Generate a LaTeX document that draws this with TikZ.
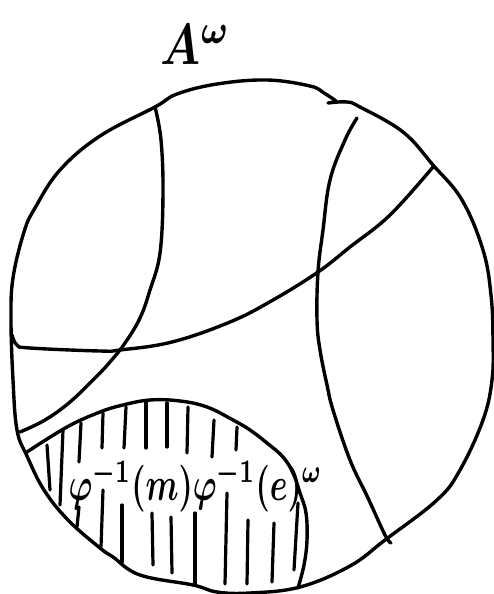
\documentclass[tikz,border=0pt]{standalone}
\begin{document}
\begin{tikzpicture}[x=1pt,y=-1pt,
  pen/.style={line width=3.4pt, line cap=round, line join=round},
  hatch/.style={line width=3.2pt, line cap=round},
  lbl/.style={inner sep=0pt, xscale=4.6, yscale=5.8, font=\boldmath},
  blobtxt/.style={inner sep=0pt, xscale=3.2, yscale=4.7, font=\boldmath}]
\useasboundingbox (0,0) rectangle (494,594);
% outer closed curve
\draw[pen] plot[smooth, tension=0.65] coordinates {
 (328,103) (347,102) (360,107) (403,132) (433,165) (462,200) (483,250)
 (491,295) (493,340) (492,380) (483,420) (460,470) (437,500) (385,540)
 (350,566) (300,587) (250,593) (217,592) (193,585) (140,575) (113,557)
 (100,548) (68,520) (44,490) (27,456) (17,430) (13,380) (11,320) (13,278)
 (24,232) (35,208) (60,170) (100,136) (155,107) (177,94) (217,84)
 (267,80) (310,86) (324,93) (336,101)};
% interior curves
\draw[pen] plot[smooth, tension=0.65] coordinates {
 (155,107) (161,140) (163,193) (160,253) (150,290) (140,318) (125,343)
 (110,362) (95,378) (70,402) (45,420) (20,432)};
\draw[pen] plot[smooth, tension=0.65] coordinates {
 (12,335) (17,345) (30,348) (100,351) (120,350) (172,342) (230,322)
 (273,300) (318,272) (350,247) (390,215) (433,167)};
\draw[pen] plot[smooth, tension=0.65] coordinates {
 (357,118) (345,140) (330,180) (323,230) (318,272) (317,320) (320,350)
 (327,385) (333,410) (350,460) (368,498) (385,535) (391,543)};
% blob boundary
\draw[pen] plot[smooth, tension=0.65] coordinates {
 (27,452) (67,427) (100,412) (123,405) (150,400) (180,401) (207,407)
 (233,420) (250,430) (267,443) (283,457) (293,473) (300,493) (306,513)
 (307,540) (304,565) (298,588)};
% hatching
\draw[hatch] (47,445) -- (50,490);
\draw[hatch] (63,430) -- (60,505);
\draw[hatch] (81,423) -- (79,462);
\draw[hatch] (79,507) -- (77,527);
\draw[hatch] (103,413) -- (102,448);
\draw[hatch] (103,490) -- (101,547);
\draw[hatch] (126,407) -- (124,448);
\draw[hatch] (122,505) -- (122,562);
\draw[hatch] (146,402) -- (146,448);
\draw[hatch] (152,513) -- (153,565);
\draw[hatch] (167,403) -- (167,447);
\draw[hatch] (171,517) -- (172,573);
\draw[hatch] (188,407) -- (187,453);
\draw[hatch] (195,513) -- (195,584);
\draw[hatch] (214,420) -- (212,457);
\draw[hatch] (227,493) -- (225,584);
\draw[hatch] (237,427) -- (236,450);
\draw[hatch] (248,520) -- (247,584);
\draw[hatch] (274,523) -- (272,582);
\draw[hatch] (298,503) -- (294,570);
% labels
\node[lbl, anchor=base west] (title) at (160,65) {$A^{\omega}$};
\node[blobtxt, anchor=base west] (settext) at (68,500)
  {$\varphi^{-1}(m)\varphi^{-1}(e)^{\omega}$};
\end{tikzpicture}
\end{document}
